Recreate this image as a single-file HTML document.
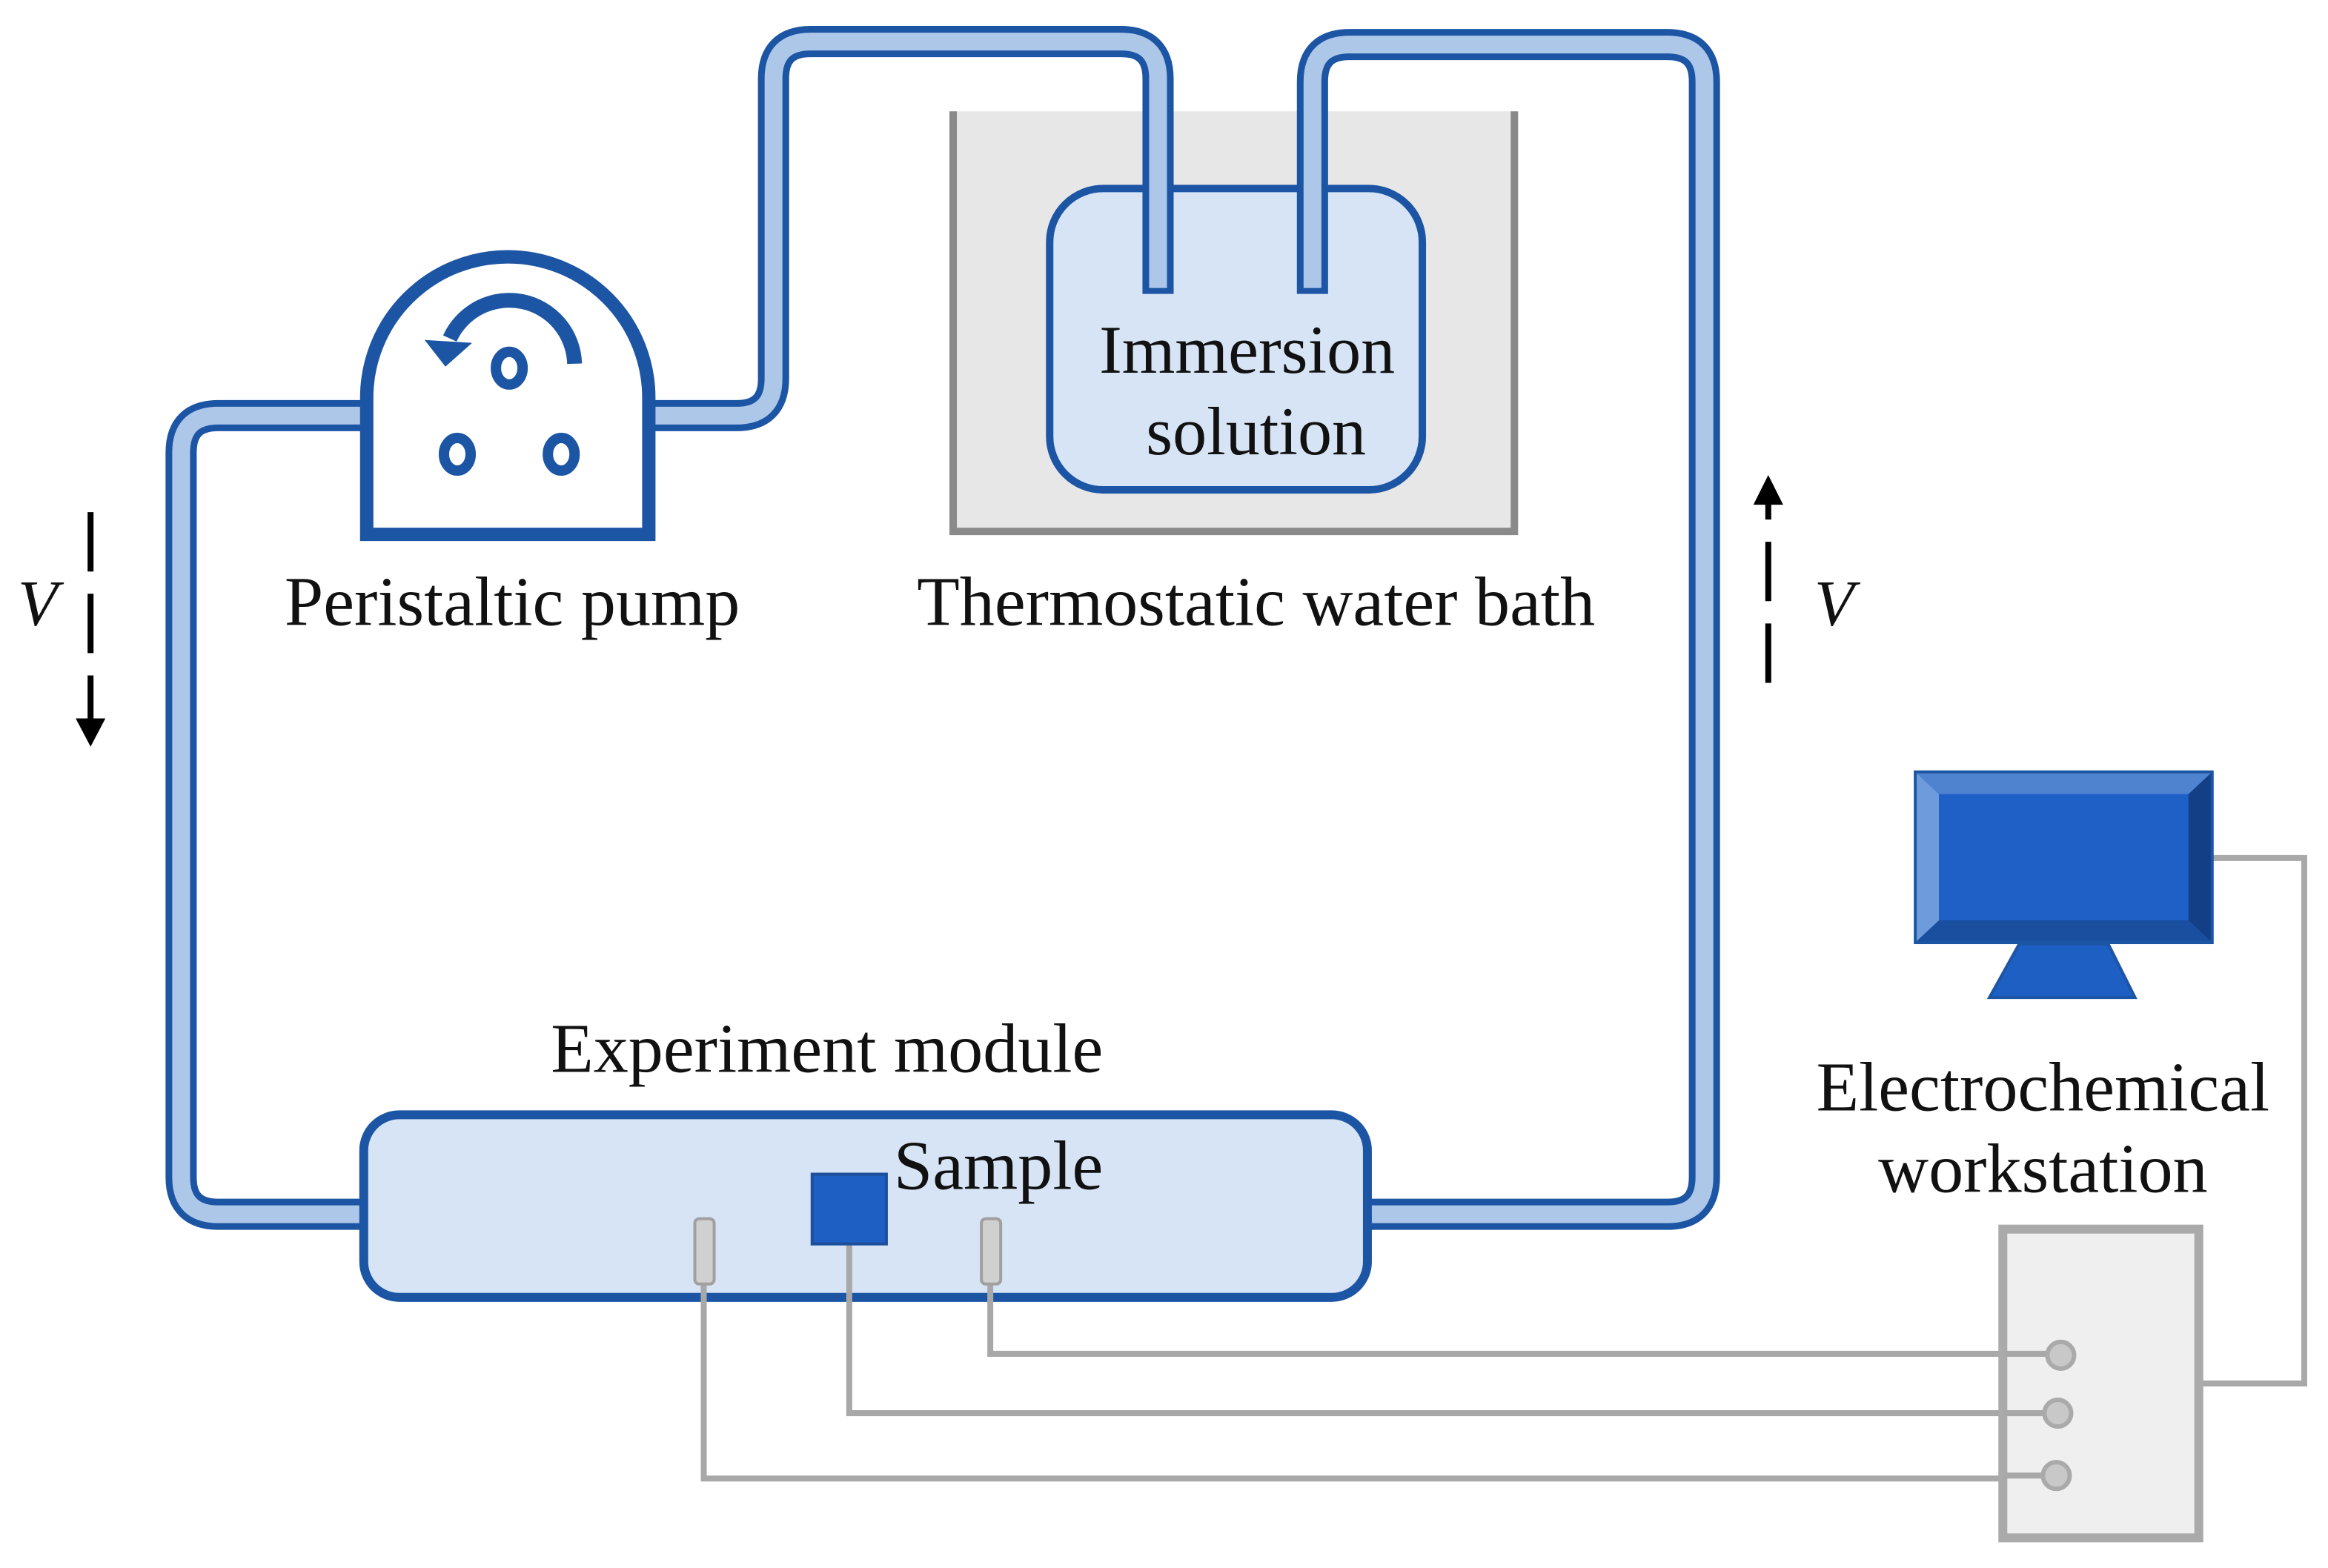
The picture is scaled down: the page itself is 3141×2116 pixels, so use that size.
<!DOCTYPE html>
<html><head><meta charset="utf-8"><style>
html,body{margin:0;padding:0;background:#fff;}
svg{display:block;}
text{font-family:"Liberation Serif",serif;fill:#111;}
</style></head><body>
<svg width="3141" height="2116" viewBox="0 0 1568 1056.3" preserveAspectRatio="none" xmlns="http://www.w3.org/2000/svg">
<rect width="1568" height="1057" fill="#fff"/>
<!-- water bath -->
<rect x="640" y="75" width="382" height="285" fill="#e7e7e7"/>
<path d="M642 75 V358 H1020 V75" fill="none" stroke="#8a8a8a" stroke-width="5"/>
<!-- immersion box -->
<rect x="707" y="127" width="251" height="203" rx="36" fill="#d6e4f5" stroke="#1d55a5" stroke-width="5"/>
<!-- tubes -->
<g fill="none" stroke-linejoin="round">
<g stroke="#1d55a5" stroke-width="21">
<path d="M250 280 H147 Q122 280 122 305 V793 Q122 818 147 818 H250"/>
<path d="M435 280 H496 Q521 280 521 255 V53 Q521 28 546 28 H755 Q780 28 780 53 V198"/>
<path d="M884 198 V55 Q884 30 909 30 H1123 Q1148 30 1148 55 V793 Q1148 818 1123 818 H915"/>
</g>
<g stroke="#adc7e8" stroke-width="12">
<path d="M250 280 H147 Q122 280 122 305 V793 Q122 818 147 818 H250"/>
<path d="M435 280 H496 Q521 280 521 255 V53 Q521 28 546 28 H755 Q780 28 780 53 V194"/>
<path d="M884 194 V55 Q884 30 909 30 H1123 Q1148 30 1148 55 V793 Q1148 818 1123 818 H915"/>
</g>
</g>
<text x="840" y="251" font-size="46" text-anchor="middle">Immersion</text>
<text x="846" y="306" font-size="46" text-anchor="middle">solution</text>
<!-- pump -->
<path d="M247 360 V268 A95 95 0 0 1 437 268 V360 Z" fill="#fff" stroke="#1d55a5" stroke-width="9"/>
<path d="M387 245 A44 44 0 0 0 303 228" fill="none" stroke="#1d55a5" stroke-width="10"/>
<polygon points="286,229 318,231 300,247" fill="#1d55a5"/>
<g fill="#fff" stroke="#1d55a5" stroke-width="7">
<ellipse cx="343" cy="248" rx="9" ry="11"/>
<ellipse cx="308" cy="306" rx="9" ry="11"/>
<ellipse cx="378" cy="306" rx="9" ry="11"/>
</g>
<text x="345" y="421" font-size="47" text-anchor="middle">Peristaltic pump</text>
<text x="846" y="421" font-size="47" text-anchor="middle">Thermostatic water bath</text>
<!-- V arrows -->
<g stroke="#000" stroke-width="4">
<line x1="61" y1="345" x2="61" y2="385"/><line x1="61" y1="400" x2="61" y2="440"/><line x1="61" y1="455" x2="61" y2="488"/>
<line x1="1191" y1="460" x2="1191" y2="420"/><line x1="1191" y1="405" x2="1191" y2="365"/><line x1="1191" y1="350" x2="1191" y2="336"/>
</g>
<polygon points="51,484 71,484 61,503" fill="#000"/>
<polygon points="1181,340 1201,340 1191,320" fill="#000"/>
<text x="12" y="421" font-size="44" font-style="italic">V</text>
<text x="1222" y="421" font-size="44" font-style="italic">V</text>
<!-- module -->
<text x="557" y="722" font-size="47" text-anchor="middle">Experiment module</text>
<rect x="245" y="751" width="676" height="123" rx="24" fill="#d6e4f5" stroke="#1d55a5" stroke-width="6"/>
<!-- wires -->
<g fill="none" stroke="#a8a8a8" stroke-width="4">
<path d="M474 860 V996 H1386"/>
<path d="M572 836 V952 H1386"/>
<path d="M667 860 V912 H1388"/>
<path d="M1488 578 H1552 V932 H1482"/>
</g>
<rect x="547" y="791" width="50" height="47" fill="#1e5fc4" stroke="#1d4f9a" stroke-width="2"/>
<text x="602" y="801" font-size="47">Sample</text>
<rect x="468" y="821" width="13" height="44" rx="3" fill="#d0d0d0" stroke="#a0a0a0" stroke-width="2"/>
<rect x="661" y="821" width="13" height="44" rx="3" fill="#d0d0d0" stroke="#a0a0a0" stroke-width="2"/>
<!-- workstation -->
<rect x="1349" y="828" width="132" height="208" fill="#efefef" stroke="#aaa" stroke-width="6"/>
<path d="M1350 912 H1388 M1350 952 H1386 M1350 994 H1385" stroke="#a8a8a8" stroke-width="4"/>
<g fill="#c8c8c8" stroke="#aaa" stroke-width="3">
<circle cx="1388" cy="913" r="9"/><circle cx="1386" cy="952" r="9"/><circle cx="1385" cy="994" r="9"/>
</g>
<!-- monitor -->
<polygon points="1360,636 1420,636 1438,672 1340,672" fill="#1e5fc4" stroke="#1d55a5" stroke-width="2"/>
<rect x="1289" y="519" width="202" height="117" fill="#1d55a5"/>
<polygon points="1291,521 1489,521 1474,535 1306,535" fill="#4f83d0"/>
<polygon points="1291,521 1306,535 1306,620 1291,634" fill="#6e9bdc"/>
<polygon points="1489,521 1474,535 1474,620 1489,634" fill="#123f85"/>
<polygon points="1291,634 1306,620 1474,620 1489,634" fill="#1a4e9e"/>
<rect x="1306" y="535" width="168" height="85" fill="#1e60c6"/>
<text x="1376" y="748" font-size="47" text-anchor="middle">Electrochemical</text>
<text x="1376" y="803" font-size="47" text-anchor="middle">workstation</text>
</svg>
</body></html>
